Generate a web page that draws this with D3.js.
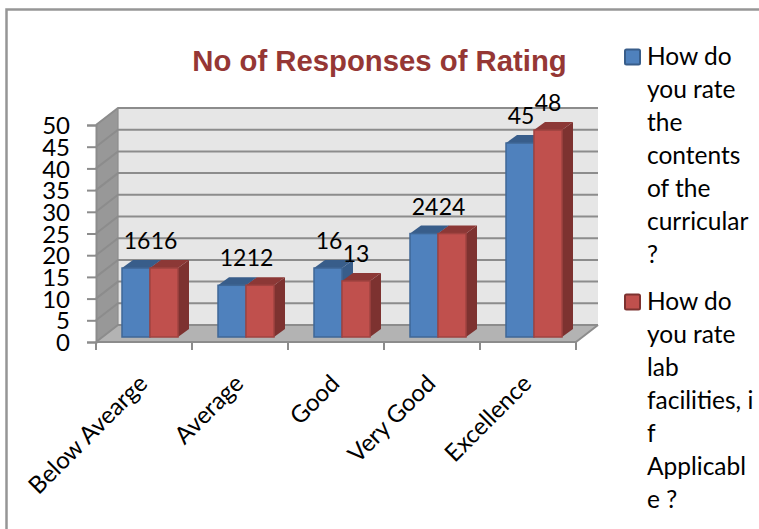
<!DOCTYPE html>
<html>
<head>
<meta charset="utf-8">
<script src="https://cdn.jsdelivr.net/npm/d3@7"></script>
<style>
  html, body { margin: 0; padding: 0; background: #fff; }
  svg { display: block; }
  text { font-family: Lato, "Open Sans", sans-serif; fill: #000; }
</style>
</head>
<body>
<svg id="chart" width="759" height="529"></svg>
<script>
const categories = ["Below Avearge", "Average", "Good", "Very Good", "Excellence"];
const contents = [16, 12, 16, 24, 45];
const lab = [16, 12, 13, 24, 48];
const yTicks = [0, 5, 10, 15, 20, 25, 30, 35, 40, 45, 50];
const legendOne = ["How do", "you rate", "the", "contents", "of the", "curricular", "?"];
const legendTwo = ["How do", "you rate", "lab", "facilities, i", "f", "Applicabl", "e ?"];

const svg = d3.select("#chart");
const width = 759, height = 529;

// front edge of the floor and how far the back wall is pushed
const depthX = 22, depthY = -17;
const x = d3.scaleBand().domain(categories).range([96, 576]);
const y = d3.scaleLinear().domain([0, 50]).range([342, 125]);
// bars stand a little way in from the front edge
const barBase = 337;
const barY = d3.scaleLinear().domain([0, 50]).range([barBase, barBase - 215.5]);
const barW = 28, barInset = 26, barDx = 11, barDy = -8;

const GRID = "#8c8c8c";
const GRID_W = 2;

// chart frame
svg.append("path")
  .attr("d", `M6.5,${height}V9.5H${width}`)
  .attr("fill", "none")
  .attr("stroke", "#969696")
  .attr("stroke-width", 2.5);

// back wall, side wall, floor
const wallLeft = x.range()[0], wallRight = x.range()[1];
svg.append("path")
  .attr("d", `M${wallLeft + depthX},${y(50) + depthY}H${wallRight + depthX}V${y(0) + depthY}H${wallLeft + depthX}Z`)
  .attr("fill", "#e6e6e6");
svg.append("path")
  .attr("d", `M${wallLeft},${y(50)}L${wallLeft + depthX},${y(50) + depthY}V${y(0) + depthY}L${wallLeft},${y(0)}Z`)
  .attr("fill", "#989898");
svg.append("path")
  .attr("d", `M${wallLeft},${y(0)}L${wallLeft + depthX},${y(0) + depthY}H${wallRight + depthX}L${wallRight},${y(0)}Z`)
  .attr("fill", "#b3b3b3");

// gridlines wrap around side wall and back wall
svg.append("g").selectAll("path").data(yTicks).join("path")
  .attr("d", d => `M${wallLeft},${y(d)}L${wallLeft + depthX},${y(d) + depthY}H${wallRight + depthX}`)
  .attr("fill", "none")
  .attr("stroke", GRID)
  .attr("stroke-width", GRID_W);

svg.append("path")
  .attr("d", `M${wallRight},${y(0)}L${wallRight + depthX},${y(0) + depthY}`)
  .attr("fill", "none").attr("stroke", GRID).attr("stroke-width", GRID_W);
svg.append("path")
  .attr("d", `M${wallLeft + depthX},${y(50) + depthY}V${y(0) + depthY}`)
  .attr("fill", "none").attr("stroke", GRID).attr("stroke-width", 1.2);

// value axis
const yAxis = d3.axisLeft(y).tickValues(yTicks).tickSize(9).tickPadding(17);
const yG = svg.append("g").attr("transform", `translate(${wallLeft},0)`).call(yAxis);
yG.select(".domain").attr("stroke", GRID).attr("stroke-width", GRID_W);
yG.selectAll(".tick line").attr("stroke", GRID).attr("stroke-width", GRID_W);
yG.selectAll("text").style("font-size", "24px").attr("dy", "0.36em");

// category axis
const xEdges = categories.map(c => x(c)).concat([x.range()[1]]);
const xG = svg.append("g");
xG.append("line")
  .attr("x1", wallLeft).attr("x2", wallRight)
  .attr("y1", y(0)).attr("y2", y(0))
  .attr("stroke", GRID).attr("stroke-width", GRID_W);
xG.selectAll(".edge").data(xEdges).join("line")
  .attr("class", "edge")
  .attr("x1", d => d).attr("x2", d => d)
  .attr("y1", y(0)).attr("y2", y(0) + 8)
  .attr("stroke", GRID).attr("stroke-width", GRID_W);
xG.selectAll("text").data(categories).join("text")
  .attr("transform", c => `translate(${x(c) + x.bandwidth() / 2 + 5},${y(0) + 43}) rotate(-45)`)
  .attr("text-anchor", "end")
  .style("font-size", "24px")
  .text(c => c);

// one 3d bar: side and top first, face on top
function drawBar(g, bx, value, colors) {
  const top = barY(value);
  g.append("path")
    .attr("d", `M${bx + barW},${top}l${barDx},${barDy}V${barBase + barDy}l${-barDx},${-barDy}Z`)
    .attr("fill", colors.side);
  g.append("path")
    .attr("d", `M${bx},${top}l${barDx},${barDy}h${barW}l${-barDx},${-barDy}Z`)
    .attr("fill", colors.top);
  g.append("rect")
    .attr("x", bx).attr("y", top)
    .attr("width", barW).attr("height", barBase - top)
    .attr("fill", colors.face)
    .attr("stroke", colors.edge)
    .attr("stroke-width", 1.5);
}

const blue = { face: "#4f81bd", side: "#385d8a", top: "#385d8a", edge: "#3f6797" };
const red = { face: "#c0504d", side: "#7d3230", top: "#8c3836", edge: "#a04340" };

const bars = svg.append("g");
categories.forEach((c, i) => {
  const g = bars.append("g");
  drawBar(g, x(c) + barInset, contents[i], blue);
  drawBar(g, x(c) + barInset + barW, lab[i], red);
});

// value labels
const labels = svg.append("g").style("font-size", "23px");
categories.forEach((c, i) => {
  const cx = x(c) + barInset;
  labels.append("text").attr("x", cx + 15).attr("y", barY(contents[i]) - 19)
    .attr("text-anchor", "middle").text(contents[i]);
  labels.append("text").attr("x", cx + 42).attr("y", barY(lab[i]) - 19)
    .attr("text-anchor", "middle").text(lab[i]);
});

// title
svg.append("text")
  .attr("x", 379.5).attr("y", 71)
  .attr("text-anchor", "middle")
  .style("font-family", "'Liberation Sans', Arial, sans-serif")
  .style("font-weight", "bold")
  .style("font-size", "29.3px")
  .style("fill", "#953735")
  .text("No of Responses of Rating");

// legend
function drawLegend(lines, top, colors) {
  const g = svg.append("g");
  g.append("rect")
    .attr("x", 625).attr("y", top - 7.5)
    .attr("width", 15).attr("height", 15)
    .attr("rx", 1.5)
    .attr("fill", colors.face)
    .attr("stroke", colors.side)
    .attr("stroke-width", 2);
  g.selectAll("text").data(lines).join("text")
    .attr("x", 647)
    .attr("y", (d, i) => top + 8 + i * 33)
    .style("font-size", "24.5px")
    .text(d => d);
}
drawLegend(legendOne, 57, blue);
drawLegend(legendTwo, 302, red);
</script>
</body>
</html>
